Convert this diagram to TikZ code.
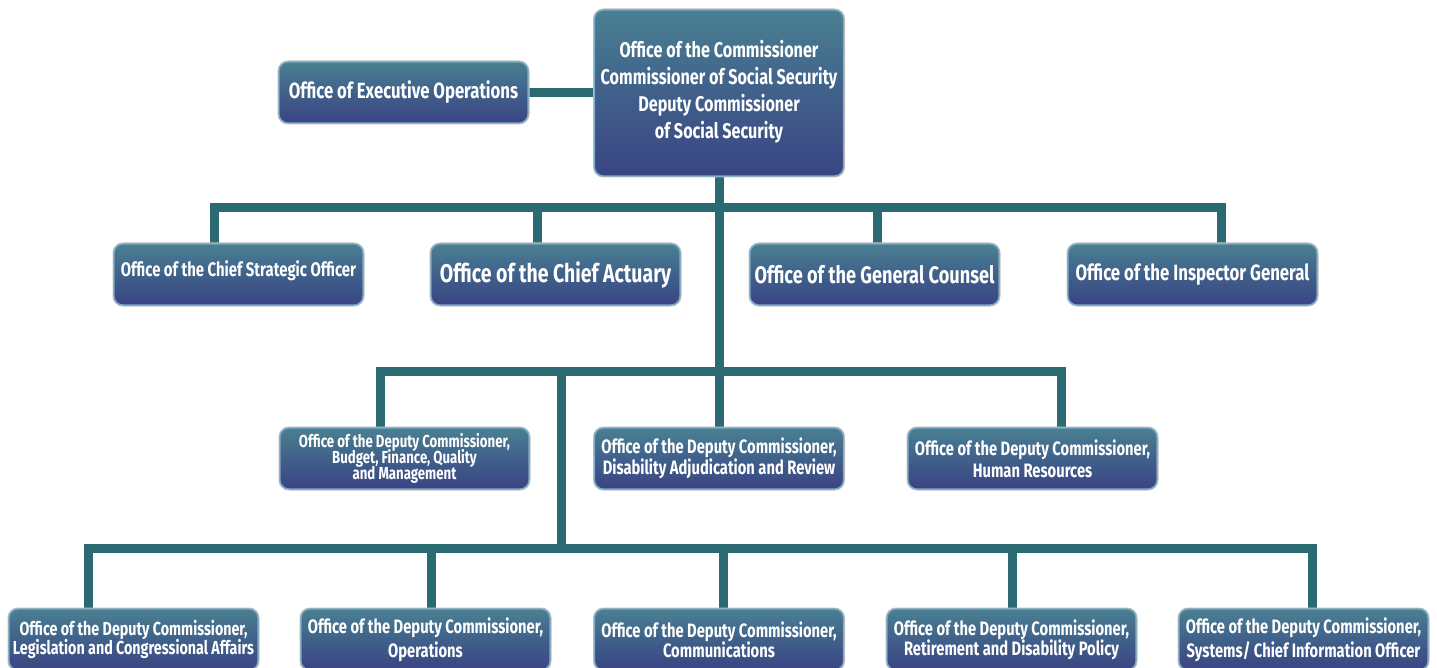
\documentclass[tikz,border=0pt]{standalone}
\usepackage{fontspec}
\usetikzlibrary{backgrounds}
\newfontfamily\lbl{Fira Sans}[FakeStretch=0.76]
\newcommand\fsz[2]{\fontsize{#1}{#2}\selectfont\lineskiplimit=-30pt\relax}
\definecolor{linec}{RGB}{44,106,115}
\definecolor{boxtop}{RGB}{74,128,146}
\definecolor{boxmid}{RGB}{64,96,138}
\definecolor{boxbot}{RGB}{58,68,132}
\definecolor{boxedge}{RGB}{120,170,200}
\tikzset{
  orgbox/.style={rounded corners=9pt, minimum width=249pt, minimum height=61pt,
    inner sep=0pt, text=white, align=center,
    top color=boxtop, bottom color=boxbot, middle color=boxmid,
    draw=boxedge, line width=1.2pt,
    preaction={draw=black!25, line width=3pt}},
  conn/.style={draw=linec, line width=9pt}
}
\begin{document}
\begin{tikzpicture}[x=1pt,y=-1pt]
\useasboundingbox (0,0) rectangle (1437,668);
\coordinate (r2a) at (214.5,207.5);
\coordinate (r2b) at (537,207.5);
\coordinate (r2c) at (877,207.5);
\coordinate (r2d) at (1221.5,207.5);
\coordinate (r3a) at (380,371);
\coordinate (r3d) at (1061,371);
\coordinate (r3t) at (561.5,371);
\coordinate (r4a) at (88,548);
\coordinate (r4b) at (431,548);
\coordinate (r4c) at (723,548);
\coordinate (r4d) at (1012,548);
\coordinate (r4e) at (1312,548);
\coordinate (r4t) at (561.5,548);

\node[orgbox, minimum height=166pt, font=\lbl\bfseries\fsz{21.3}{27}] (comm) at (719,93)
  {Office of the Commissioner\\Commissioner of Social Security\\Deputy Commissioner\\of Social Security\\[-19pt]};
\node[orgbox, font=\lbl\bfseries\fsz{22}{24}] (exec) at (403.5,92.5) {Office of Executive Operations};

\node[orgbox, font=\lbl\bfseries\fsz{19.6}{20}] (cso) at (238.5,274.5) {Office of the Chief Strategic Officer\\[-8pt]};
\node[orgbox, font=\lbl\bfseries\fsz{25.6}{24}] (ca) at (555.5,274.5) {Office of the Chief Actuary};
\node[orgbox, font=\lbl\bfseries\fsz{23.9}{24}] (gc) at (874.5,274.5) {Office of the General Counsel};
\node[orgbox, font=\lbl\bfseries\fsz{22.1}{24}] (ig) at (1192.5,274.5) {Office of the Inspector General};

\node[orgbox, font=\lbl\bfseries\fsz{17.4}{16}] (bfqm) at (404.5,458.5) {Office of the Deputy Commissioner,\\Budget, Finance, Quality\\and Management};
\node[orgbox, font=\lbl\bfseries\fsz{19.4}{21}] (dis) at (719,458.5) {Office of the Deputy Commissioner,\\Disability Adjudication and Review};
\node[orgbox, font=\lbl\bfseries\fsz{19.4}{22}] (hr) at (1032.5,458.5) {Office of the Deputy Commissioner,\\Human Resources};

\node[orgbox, font=\lbl\bfseries\fsz{18.8}{19}] (leg) at (133.5,639.5) {Office of the Deputy Commissioner,\\Legislation and Congressional Affairs};
\node[orgbox, font=\lbl\bfseries\fsz{19.4}{24}] (ops) at (425.5,639.5) {Office of the Deputy Commissioner,\\Operations};
\node[orgbox, font=\lbl\bfseries\fsz{19.4}{20}] (com) at (719,639.5) {Office of the Deputy Commissioner,\\Communications};
\node[orgbox, font=\lbl\bfseries\fsz{19.4}{20}] (ret) at (1011.5,639.5) {Office of the Deputy Commissioner,\\Retirement and Disability Policy};
\node[orgbox, font=\lbl\bfseries\fsz{19.4}{24}] (sys) at (1303.5,639.5) {Office of the Deputy Commissioner,\\Systems/ Chief Information Officer};

\begin{pgfonlayer}{background}
\begin{scope}[conn]
\draw (exec.east) -- (comm.west |- exec.east);
\draw (comm.south) -- (dis.north);
\draw (r2a |- cso.north) -- (r2a) -- (r2d) -- (r2d |- ig.north);
\draw (r2b) -- (r2b |- ca.north);
\draw (r2c) -- (r2c |- gc.north);
\draw (r3a |- bfqm.north) -- (r3a) -- (r3d) -- (r3d |- hr.north);
\draw (r3t) -- (r4t);
\draw (r4a |- leg.north) -- (r4a) -- (r4e) -- (r4e |- sys.north);
\draw (r4b) -- (r4b |- ops.north);
\draw (r4c) -- (r4c |- com.north);
\draw (r4d) -- (r4d |- ret.north);
\end{scope}
\end{pgfonlayer}
\end{tikzpicture}
\end{document}
